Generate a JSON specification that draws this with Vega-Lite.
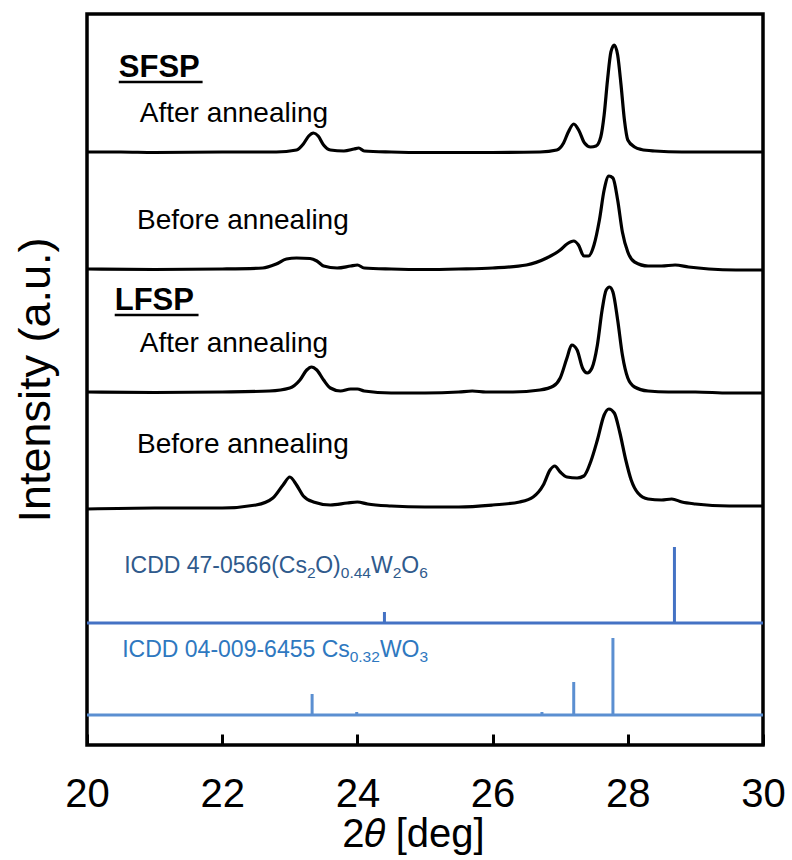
{
  "$schema": "https://vega.github.io/schema/vega-lite/v6.json",
  "width": 676,
  "height": 731,
  "autosize": {"type": "none"},
  "padding": {"left": 87, "top": 14, "right": 29, "bottom": 115},
  "background": "white",
  "config": {
    "view": {"stroke": "black", "strokeWidth": 3.5},
    "font": "Liberation Sans",
    "axis": {"grid": false, "labelFont": "Liberation Sans", "titleFont": "Liberation Sans"}
  },
  "datasets": {
    "curves": [
      {"series": "SFSP after", "x": 20.0, "y": 593}, {"series": "SFSP after", "x": 20.5, "y": 593}, {"series": "SFSP after", "x": 21.0, "y": 592.5}, {"series": "SFSP after", "x": 22.0, "y": 593}, {"series": "SFSP after", "x": 22.8, "y": 593}, {"series": "SFSP after", "x": 23.1, "y": 595}, {"series": "SFSP after", "x": 23.2, "y": 601}, {"series": "SFSP after", "x": 23.28, "y": 609}, {"series": "SFSP after", "x": 23.35, "y": 612}, {"series": "SFSP after", "x": 23.42, "y": 609}, {"series": "SFSP after", "x": 23.5, "y": 600}, {"series": "SFSP after", "x": 23.6, "y": 595}, {"series": "SFSP after", "x": 23.8, "y": 594}, {"series": "SFSP after", "x": 23.95, "y": 596}, {"series": "SFSP after", "x": 24.02, "y": 597}, {"series": "SFSP after", "x": 24.1, "y": 594}, {"series": "SFSP after", "x": 24.5, "y": 593}, {"series": "SFSP after", "x": 25.0, "y": 592.5}, {"series": "SFSP after", "x": 26.0, "y": 592.5}, {"series": "SFSP after", "x": 26.7, "y": 593}, {"series": "SFSP after", "x": 26.95, "y": 595}, {"series": "SFSP after", "x": 27.05, "y": 602}, {"series": "SFSP after", "x": 27.12, "y": 613}, {"series": "SFSP after", "x": 27.2, "y": 621}, {"series": "SFSP after", "x": 27.28, "y": 614}, {"series": "SFSP after", "x": 27.36, "y": 602}, {"series": "SFSP after", "x": 27.45, "y": 598}, {"series": "SFSP after", "x": 27.53, "y": 599}, {"series": "SFSP after", "x": 27.6, "y": 608}, {"series": "SFSP after", "x": 27.65, "y": 630}, {"series": "SFSP after", "x": 27.7, "y": 665}, {"series": "SFSP after", "x": 27.75, "y": 693}, {"series": "SFSP after", "x": 27.8, "y": 700}, {"series": "SFSP after", "x": 27.85, "y": 690}, {"series": "SFSP after", "x": 27.9, "y": 660}, {"series": "SFSP after", "x": 27.95, "y": 625}, {"series": "SFSP after", "x": 28.0, "y": 605}, {"series": "SFSP after", "x": 28.1, "y": 598}, {"series": "SFSP after", "x": 28.2, "y": 595.5}, {"series": "SFSP after", "x": 28.4, "y": 594}, {"series": "SFSP after", "x": 28.8, "y": 593}, {"series": "SFSP after", "x": 29.5, "y": 593}, {"series": "SFSP after", "x": 30.0, "y": 593},

      {"series": "SFSP before", "x": 20.0, "y": 476}, {"series": "SFSP before", "x": 21.0, "y": 475.5}, {"series": "SFSP before", "x": 22.0, "y": 476}, {"series": "SFSP before", "x": 22.6, "y": 477}, {"series": "SFSP before", "x": 22.8, "y": 481}, {"series": "SFSP before", "x": 22.95, "y": 486}, {"series": "SFSP before", "x": 23.1, "y": 487}, {"series": "SFSP before", "x": 23.3, "y": 486.5}, {"series": "SFSP before", "x": 23.4, "y": 484}, {"series": "SFSP before", "x": 23.5, "y": 479}, {"series": "SFSP before", "x": 23.7, "y": 477}, {"series": "SFSP before", "x": 23.9, "y": 479}, {"series": "SFSP before", "x": 24.0, "y": 480}, {"series": "SFSP before", "x": 24.1, "y": 477}, {"series": "SFSP before", "x": 24.5, "y": 476}, {"series": "SFSP before", "x": 25.0, "y": 475.5}, {"series": "SFSP before", "x": 25.5, "y": 476}, {"series": "SFSP before", "x": 26.0, "y": 477}, {"series": "SFSP before", "x": 26.5, "y": 480}, {"series": "SFSP before", "x": 26.8, "y": 487}, {"series": "SFSP before", "x": 27.0, "y": 495}, {"series": "SFSP before", "x": 27.1, "y": 501}, {"series": "SFSP before", "x": 27.2, "y": 504}, {"series": "SFSP before", "x": 27.27, "y": 500}, {"series": "SFSP before", "x": 27.35, "y": 489}, {"series": "SFSP before", "x": 27.42, "y": 489}, {"series": "SFSP before", "x": 27.5, "y": 500}, {"series": "SFSP before", "x": 27.58, "y": 525}, {"series": "SFSP before", "x": 27.65, "y": 555}, {"series": "SFSP before", "x": 27.72, "y": 569}, {"series": "SFSP before", "x": 27.78, "y": 567}, {"series": "SFSP before", "x": 27.85, "y": 545}, {"series": "SFSP before", "x": 27.92, "y": 513}, {"series": "SFSP before", "x": 28.0, "y": 493}, {"series": "SFSP before", "x": 28.1, "y": 483}, {"series": "SFSP before", "x": 28.3, "y": 479}, {"series": "SFSP before", "x": 28.5, "y": 479}, {"series": "SFSP before", "x": 28.7, "y": 480}, {"series": "SFSP before", "x": 28.9, "y": 478}, {"series": "SFSP before", "x": 29.2, "y": 476}, {"series": "SFSP before", "x": 29.6, "y": 475}, {"series": "SFSP before", "x": 30.0, "y": 475},

      {"series": "LFSP after", "x": 20.0, "y": 353}, {"series": "LFSP after", "x": 21.0, "y": 352.5}, {"series": "LFSP after", "x": 22.0, "y": 353}, {"series": "LFSP after", "x": 22.7, "y": 354}, {"series": "LFSP after", "x": 23.0, "y": 357}, {"series": "LFSP after", "x": 23.15, "y": 365}, {"series": "LFSP after", "x": 23.25, "y": 375}, {"series": "LFSP after", "x": 23.32, "y": 378}, {"series": "LFSP after", "x": 23.4, "y": 375}, {"series": "LFSP after", "x": 23.5, "y": 365}, {"series": "LFSP after", "x": 23.6, "y": 357}, {"series": "LFSP after", "x": 23.75, "y": 354}, {"series": "LFSP after", "x": 23.9, "y": 356}, {"series": "LFSP after", "x": 24.0, "y": 356}, {"series": "LFSP after", "x": 24.1, "y": 354}, {"series": "LFSP after", "x": 24.5, "y": 352}, {"series": "LFSP after", "x": 25.0, "y": 352}, {"series": "LFSP after", "x": 25.5, "y": 353}, {"series": "LFSP after", "x": 25.7, "y": 354}, {"series": "LFSP after", "x": 25.9, "y": 353}, {"series": "LFSP after", "x": 26.3, "y": 353}, {"series": "LFSP after", "x": 26.7, "y": 355}, {"series": "LFSP after", "x": 26.9, "y": 359}, {"series": "LFSP after", "x": 27.0, "y": 367}, {"series": "LFSP after", "x": 27.1, "y": 387}, {"series": "LFSP after", "x": 27.17, "y": 400}, {"series": "LFSP after", "x": 27.25, "y": 395}, {"series": "LFSP after", "x": 27.33, "y": 377}, {"series": "LFSP after", "x": 27.4, "y": 372}, {"series": "LFSP after", "x": 27.47, "y": 377}, {"series": "LFSP after", "x": 27.55, "y": 400}, {"series": "LFSP after", "x": 27.62, "y": 435}, {"series": "LFSP after", "x": 27.68, "y": 455}, {"series": "LFSP after", "x": 27.73, "y": 458}, {"series": "LFSP after", "x": 27.78, "y": 453}, {"series": "LFSP after", "x": 27.85, "y": 425}, {"series": "LFSP after", "x": 27.92, "y": 390}, {"series": "LFSP after", "x": 28.0, "y": 367}, {"series": "LFSP after", "x": 28.1, "y": 358}, {"series": "LFSP after", "x": 28.3, "y": 354}, {"series": "LFSP after", "x": 28.6, "y": 353}, {"series": "LFSP after", "x": 29.0, "y": 353}, {"series": "LFSP after", "x": 29.5, "y": 352}, {"series": "LFSP after", "x": 30.0, "y": 352},

      {"series": "LFSP before", "x": 20.0, "y": 236}, {"series": "LFSP before", "x": 21.0, "y": 237}, {"series": "LFSP before", "x": 22.0, "y": 237}, {"series": "LFSP before", "x": 22.5, "y": 240}, {"series": "LFSP before", "x": 22.75, "y": 247}, {"series": "LFSP before", "x": 22.9, "y": 260}, {"series": "LFSP before", "x": 23.0, "y": 268}, {"series": "LFSP before", "x": 23.1, "y": 260}, {"series": "LFSP before", "x": 23.2, "y": 249}, {"series": "LFSP before", "x": 23.35, "y": 243}, {"series": "LFSP before", "x": 23.6, "y": 240}, {"series": "LFSP before", "x": 23.85, "y": 242}, {"series": "LFSP before", "x": 24.0, "y": 243}, {"series": "LFSP before", "x": 24.15, "y": 241}, {"series": "LFSP before", "x": 24.5, "y": 239}, {"series": "LFSP before", "x": 25.0, "y": 238}, {"series": "LFSP before", "x": 25.5, "y": 238}, {"series": "LFSP before", "x": 26.0, "y": 240}, {"series": "LFSP before", "x": 26.4, "y": 243}, {"series": "LFSP before", "x": 26.6, "y": 248}, {"series": "LFSP before", "x": 26.75, "y": 260}, {"series": "LFSP before", "x": 26.85, "y": 275}, {"series": "LFSP before", "x": 26.92, "y": 279}, {"series": "LFSP before", "x": 27.0, "y": 273}, {"series": "LFSP before", "x": 27.1, "y": 268}, {"series": "LFSP before", "x": 27.25, "y": 267}, {"series": "LFSP before", "x": 27.35, "y": 269}, {"series": "LFSP before", "x": 27.45, "y": 283}, {"series": "LFSP before", "x": 27.55, "y": 305}, {"series": "LFSP before", "x": 27.65, "y": 330}, {"series": "LFSP before", "x": 27.72, "y": 336}, {"series": "LFSP before", "x": 27.8, "y": 332}, {"series": "LFSP before", "x": 27.88, "y": 313}, {"series": "LFSP before", "x": 27.97, "y": 285}, {"series": "LFSP before", "x": 28.05, "y": 265}, {"series": "LFSP before", "x": 28.15, "y": 252}, {"series": "LFSP before", "x": 28.3, "y": 246}, {"series": "LFSP before", "x": 28.5, "y": 245}, {"series": "LFSP before", "x": 28.65, "y": 246}, {"series": "LFSP before", "x": 28.8, "y": 243}, {"series": "LFSP before", "x": 29.0, "y": 241}, {"series": "LFSP before", "x": 29.5, "y": 239}, {"series": "LFSP before", "x": 30.0, "y": 239}
    ],
    "baselines": [
      {"ref": "ICDD 47-0566", "x": 20, "x2": 30, "y": 122},
      {"ref": "ICDD 04-009-6455", "x": 20, "x2": 30, "y": 30}
    ],
    "sticks": [
      {"ref": "ICDD 47-0566", "x": 24.4, "y": 122, "y2": 133},
      {"ref": "ICDD 47-0566", "x": 28.69, "y": 122, "y2": 198},
      {"ref": "ICDD 04-009-6455", "x": 23.33, "y": 30, "y2": 51},
      {"ref": "ICDD 04-009-6455", "x": 23.99, "y": 30, "y2": 33},
      {"ref": "ICDD 04-009-6455", "x": 26.73, "y": 30, "y2": 33},
      {"ref": "ICDD 04-009-6455", "x": 27.2, "y": 30, "y2": 63},
      {"ref": "ICDD 04-009-6455", "x": 27.78, "y": 30, "y2": 107}
    ],
    "samples": [
      {"label": "SFSP", "x": 20.47, "y": 668},
      {"label": "LFSP", "x": 20.41, "y": 435}
    ],
    "underlines": [
      {"x": 20.47, "x2": 21.71, "y": 663},
      {"x": 20.41, "x2": 21.65, "y": 430}
    ],
    "states": [
      {"label": "After annealing", "x": 20.78, "y": 623},
      {"label": "Before annealing", "x": 20.74, "y": 516},
      {"label": "After annealing", "x": 20.78, "y": 393},
      {"label": "Before annealing", "x": 20.74, "y": 292}
    ],
    "refMain": [
      {"ref": "ICDD 47-0566", "label": "ICDD 47-0566(Cs", "x": 20.55, "y": 172},
      {"ref": "ICDD 47-0566", "label": "O)", "x": 23.376, "y": 172},
      {"ref": "ICDD 47-0566", "label": "W", "x": 24.201, "y": 172},
      {"ref": "ICDD 47-0566", "label": "O", "x": 24.649, "y": 172},
      {"ref": "ICDD 04-009-6455", "label": "ICDD 04-009-6455 Cs", "x": 20.521, "y": 88},
      {"ref": "ICDD 04-009-6455", "label": "WO", "x": 24.333, "y": 88}
    ],
    "refSub": [
      {"ref": "ICDD 47-0566", "label": "2", "x": 23.254, "y": 167},
      {"ref": "ICDD 47-0566", "label": "0.44", "x": 23.754, "y": 167},
      {"ref": "ICDD 47-0566", "label": "2", "x": 24.522, "y": 167},
      {"ref": "ICDD 47-0566", "label": "6", "x": 24.914, "y": 167},
      {"ref": "ICDD 04-009-6455", "label": "0.32", "x": 23.886, "y": 83},
      {"ref": "ICDD 04-009-6455", "label": "3", "x": 24.919, "y": 83}
    ]
  },
  "layer": [
    {
      "data": {"name": "curves"},
      "mark": {"type": "line", "stroke": "black", "strokeWidth": 3.2, "interpolate": "monotone", "clip": true},
      "encoding": {
        "x": {"field": "x", "type": "quantitative", "scale": {"domain": [20, 30], "nice": false, "zero": false},
          "axis": {"values": [20, 22, 24, 26, 28, 30], "format": "d", "domain": false, "tickSize": -11, "tickWidth": 3, "tickColor": "black",
            "labelFontSize": 40, "labelColor": "black", "labelPadding": 72, "labelBaseline": "alphabetic", "labelFlush": false,
            "title": "2𝜃 [deg]", "titleFontSize": 40, "titleFontWeight": "normal",
            "titleColor": "black", "titleBaseline": "alphabetic", "titleY": 101, "titleX": 326}},
        "y": {"field": "y", "type": "quantitative", "scale": {"domain": [0, 731], "nice": false, "zero": false},
          "axis": {"domain": false, "ticks": false, "labels": false, "title": "Intensity (a.u.)", "titleFontSize": 45,
            "titleFontWeight": "normal", "titleColor": "black", "titleX": -52, "titleY": 365.5, "titleBaseline": "middle", "titleAngle": -90}},
        "detail": {"field": "series"}
      }
    },
    {
      "data": {"name": "baselines"},
      "mark": {"type": "rule", "strokeWidth": 3},
      "encoding": {
        "x": {"field": "x", "type": "quantitative"},
        "x2": {"field": "x2"},
        "y": {"field": "y", "type": "quantitative"},
        "color": {"field": "ref", "type": "nominal", "scale": {"domain": ["ICDD 47-0566", "ICDD 04-009-6455"], "range": ["#4472C4", "#5B8FD1"]}, "legend": null}
      }
    },
    {
      "data": {"name": "sticks"},
      "mark": {"type": "rule", "strokeWidth": 3},
      "encoding": {
        "x": {"field": "x", "type": "quantitative"},
        "y": {"field": "y", "type": "quantitative"},
        "y2": {"field": "y2"},
        "color": {"field": "ref", "type": "nominal", "scale": {"domain": ["ICDD 47-0566", "ICDD 04-009-6455"], "range": ["#4472C4", "#5B8FD1"]}, "legend": null}
      }
    },
    {
      "data": {"name": "samples"},
      "mark": {"type": "text", "fontSize": 31, "fontWeight": "bold", "align": "left", "baseline": "alphabetic", "color": "black"},
      "encoding": {
        "x": {"field": "x", "type": "quantitative"},
        "y": {"field": "y", "type": "quantitative"},
        "text": {"field": "label"}
      }
    },
    {
      "data": {"name": "underlines"},
      "mark": {"type": "rule", "strokeWidth": 2.5, "color": "black"},
      "encoding": {
        "x": {"field": "x", "type": "quantitative"},
        "x2": {"field": "x2"},
        "y": {"field": "y", "type": "quantitative"}
      }
    },
    {
      "data": {"name": "states"},
      "mark": {"type": "text", "fontSize": 28, "align": "left", "baseline": "alphabetic", "color": "black"},
      "encoding": {
        "x": {"field": "x", "type": "quantitative"},
        "y": {"field": "y", "type": "quantitative"},
        "text": {"field": "label"}
      }
    },
    {
      "data": {"name": "refMain"},
      "mark": {"type": "text", "fontSize": 23, "align": "left", "baseline": "alphabetic"},
      "encoding": {
        "x": {"field": "x", "type": "quantitative"},
        "y": {"field": "y", "type": "quantitative"},
        "text": {"field": "label"},
        "color": {"field": "ref", "type": "nominal", "scale": {"domain": ["ICDD 47-0566", "ICDD 04-009-6455"], "range": ["#2F5A8C", "#2E78C0"]}, "legend": null}
      }
    },
    {
      "data": {"name": "refSub"},
      "mark": {"type": "text", "fontSize": 15.5, "align": "left", "baseline": "alphabetic"},
      "encoding": {
        "x": {"field": "x", "type": "quantitative"},
        "y": {"field": "y", "type": "quantitative"},
        "text": {"field": "label"},
        "color": {"field": "ref", "type": "nominal", "scale": {"domain": ["ICDD 47-0566", "ICDD 04-009-6455"], "range": ["#2F5A8C", "#2E78C0"]}, "legend": null}
      }
    }
  ],
  "resolve": {"scale": {"color": "independent"}}
}
